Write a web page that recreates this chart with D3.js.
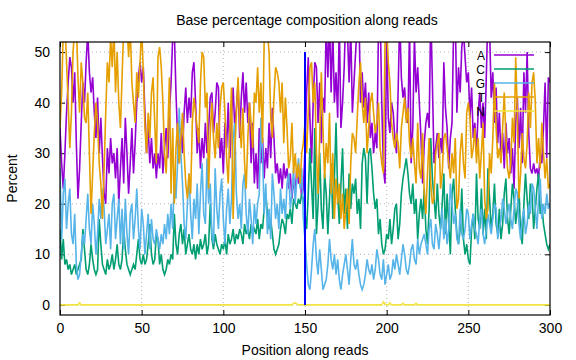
<!DOCTYPE html>
<html lang="en">
<head>
    <meta charset="UTF-8">
    <title>Base percentage composition along reads</title>
    <script type="application/javascript" src="https://cdnjs.cloudflare.com/ajax/libs/d3/7.8.5/d3.min.js"></script>
    <style type="text/css">
        body { margin: 0; background: #fff; }
        text { font-family: "Liberation Sans", Arial, sans-serif; }
    </style>
</head>
<body>
<svg id="chart" width="576" height="360"></svg>
<script type="application/javascript">
    // percent of each base at read positions 0..300
    var baseA = [
        35, 28, 23, 30, 38, 44, 49, 47, 40, 46,
        32, 21, 27, 36, 44, 40, 48, 54, 46, 42,
        45, 38, 33, 41, 30, 37, 29, 22, 20, 31,
        26, 33, 28, 30, 25, 31, 20, 27, 33, 24,
        37, 30, 22, 28, 35, 26, 32, 40, 45, 48,
        44, 47, 38, 30, 35, 28, 33, 27, 30, 25,
        30, 27, 34, 26, 31, 35, 29, 38, 44, 53,
        54, 42, 33, 28, 35, 30, 38, 43, 36, 41,
        37, 46, 48, 40, 30, 35, 27, 33, 29, 36,
        30, 35, 41, 42, 34, 38, 44, 43, 29, 33,
        26, 36, 31, 40, 29, 37, 43, 35, 39, 44,
        33, 41, 46, 38, 44, 36, 40, 28, 36, 24,
        30, 23, 35, 28, 33, 25, 31, 27, 36, 29,
        39, 33, 26, 28, 24, 27, 23, 28, 25, 27,
        23, 26, 21, 25, 22, 27, 24, 26, 21, 23,
        31, 42, 49, 37, 28, 40, 48, 47, 36, 44,
        32, 41, 38, 56, 45, 57, 42, 55, 40, 46,
        37, 56, 35, 40, 47, 58, 54, 44, 55, 38,
        44, 50, 56, 58, 40, 46, 39, 44, 36, 42,
        33, 36, 30, 34, 31, 55, 58, 40, 27, 24,
        54, 37, 34, 40, 38, 33, 30, 42, 57, 45,
        41, 43, 37, 36, 55, 28, 35, 53, 42, 47,
        40, 33, 24, 32, 36, 38, 35, 58, 44, 28,
        31, 34, 29, 33, 30, 48, 39, 35, 27, 33,
        36, 55, 57, 38, 47, 42, 51, 54, 49, 44,
        46, 37, 43, 33, 36, 30, 38, 42, 35, 40,
        33, 45, 58, 55, 41, 46, 36, 43, 32, 38,
        29, 34, 27, 36, 30, 33, 26, 31, 23, 36,
        41, 31, 39, 28, 46, 38, 50, 34, 27, 26,
        28, 26, 27, 25, 30, 28, 35, 44, 29, 45, 44
    ];
    var baseC = [
        15, 9, 13, 8, 9, 7, 8, 6, 7, 8,
        6, 7, 8, 9, 15, 11, 7, 6, 8, 12,
        9, 7, 6, 7, 17, 12, 8, 7, 6, 9,
        7, 8, 10, 7, 9, 12, 8, 7, 9, 15,
        11, 8, 7, 6, 7, 8, 7, 10, 13, 9,
        8, 10, 8, 9, 12, 16, 10, 8, 9, 14,
        13, 8, 10, 7, 6, 7, 9, 8, 10, 9,
        18, 12, 10, 14, 16, 12, 15, 10, 12, 14,
        11, 10, 12, 9, 12, 10, 13, 11, 12, 14,
        10, 12, 20, 13, 11, 14, 12, 11, 10, 12,
        11, 13, 10, 14, 12, 13, 15, 12, 14, 13,
        15, 14, 12, 16, 14, 15, 13, 16, 14, 15,
        14, 17, 13, 16, 15, 19, 22, 18, 15, 17,
        14, 11, 10, 11, 12, 15, 17, 16, 14, 18,
        17, 19, 16, 21, 20, 19, 21, 20, 22, 21,
        18, 15, 22, 31, 24, 17, 35, 14, 20, 30,
        19, 15, 26, 22, 14, 21, 28, 17, 25, 36,
        22, 16, 24, 31, 18, 23, 15, 26, 19, 24,
        22, 25, 18, 21, 15, 28, 31, 29, 20, 30,
        31, 27, 22, 19, 21, 14, 17, 12, 10, 11,
        14, 13, 17, 12, 15, 19, 20, 13, 16, 22,
        25, 27, 29, 26, 22, 20, 24, 18, 21, 13,
        18, 21, 17, 23, 15, 12, 19, 33, 25, 21,
        17, 24, 18, 15, 20, 26, 14, 22, 16, 10,
        22, 25, 19, 14, 12, 15, 23, 13, 10, 12,
        9, 8, 15, 18, 13, 26, 17, 15, 23, 14,
        19, 13, 27, 21, 15, 18, 24, 16, 14, 19,
        13, 16, 22, 25, 17, 14, 19, 24, 21, 16,
        19, 23, 14, 12, 20, 26, 21, 17, 24, 22,
        15, 19, 23, 26, 18, 20, 16, 14, 12, 11, 12
    ];
    var baseG = [
        27, 13, 22, 25, 15, 20, 23, 14, 12, 18,
        8, 5, 6, 10, 14, 12, 17, 22, 15, 12,
        20, 16, 10, 14, 21, 17, 23, 19, 12, 15,
        18, 11, 20, 22, 13, 17, 21, 12, 19, 11,
        21, 14, 10, 18, 20, 13, 17, 23, 15, 11,
        19, 16, 10, 14, 18, 11, 17, 13, 12, 15,
        13, 11, 14, 12, 16, 13, 18, 14, 20, 15,
        25, 21, 28, 39, 30, 24, 16, 13, 20, 26,
        18, 13, 21, 17, 24, 14, 22, 28, 18, 16,
        29, 20, 24, 14, 12, 27, 19, 15, 22, 25,
        17, 12, 19, 23, 16, 21, 33, 36, 22, 17,
        20, 15, 24, 26, 18, 14, 21, 17, 12, 20,
        16, 20, 22, 37, 30, 18, 24, 14, 19, 13,
        26, 22, 17, 20, 15, 23, 18, 21, 17, 24,
        26, 19, 22, 27, 20, 25, 29, 23, 27, 17,
        13, 8, 4, 3, 7, 12, 15, 9, 6, 11,
        7, 3, 4, 5, 8, 13, 9, 7, 10, 6,
        9, 5, 3, 6, 8, 10, 7, 4, 9, 13,
        8, 7, 9, 6, 4, 3, 4, 6, 9, 7,
        6, 8, 5, 7, 11, 9, 6, 5, 9, 4,
        6, 8, 5, 6, 9, 7, 10, 8, 6, 9,
        12, 10, 7, 6, 8, 11, 12, 9, 8, 13,
        10, 12, 13, 14, 12, 10, 15, 17, 12, 11,
        16, 14, 11, 15, 19, 13, 17, 12, 15, 24,
        20, 16, 18, 13, 12, 19, 14, 13, 15, 19,
        18, 13, 16, 18, 15, 14, 12, 17, 19, 14,
        12, 15, 18, 16, 14, 17, 20, 19, 13, 15,
        17, 21, 19, 16, 18, 20, 17, 15, 19, 23,
        22, 16, 13, 17, 19, 14, 16, 20, 18, 24,
        23, 19, 15, 21, 25, 17, 20, 18, 22, 19, 20
    ];
    var baseT = [
        35, 42, 54, 56, 48, 40, 31, 38, 50, 55,
        56, 45, 38, 48, 44, 37, 36, 42, 30, 18,
        26, 34, 40, 36, 28, 24, 17, 27, 38, 48,
        44, 53, 47, 55, 42, 50, 40, 35, 45, 55,
        54, 56, 49, 55, 44, 40, 36, 46, 41, 48,
        55, 46, 35, 30, 38, 33, 42, 45, 36, 28,
        49, 51, 47, 40, 30, 26, 34, 45, 22, 35,
        20, 31, 36, 28, 33, 38, 30, 24, 21, 26,
        22, 36, 41, 38, 35, 32, 44, 50, 49, 39,
        42, 23, 34, 40, 33, 29, 36, 31, 39, 43,
        44, 38, 29, 24, 34, 43, 17, 30, 38, 45,
        36, 31, 39, 28, 23, 33, 40, 36, 31, 42,
        40, 47, 38, 44, 32, 52, 55, 54, 50, 37,
        33, 41, 47, 46, 44, 38, 44, 32, 41, 35,
        27, 29, 36, 26, 30, 25, 28, 24, 30, 32,
        36, 30, 38, 47, 48, 40, 44, 30, 22, 33,
        46, 35, 25, 32, 28, 38, 22, 30, 17, 25,
        20, 24, 17, 22, 15, 19, 23, 16, 28, 34,
        33, 30, 37, 44, 48, 40, 36, 41, 30, 35,
        40, 42, 38, 34, 36, 40, 31, 28, 26, 52,
        55, 48, 44, 36, 33, 31, 34, 32, 27, 35,
        38, 41, 36, 39, 32, 29, 33, 28, 24, 36,
        27, 25, 34, 22, 18, 26, 33, 24, 20, 21,
        30, 32, 34, 23, 26, 33, 34, 31, 28, 25,
        30, 26, 33, 19, 21, 30, 34, 28, 25, 38,
        40, 37, 29, 31, 35, 28, 33, 25, 30, 36,
        21, 17, 19, 30, 26, 33, 44, 35, 29, 31,
        28, 35, 42, 33, 27, 25, 28, 37, 32, 49,
        38, 21, 26, 34, 29, 27, 32, 42, 35, 44,
        46, 40, 28, 33, 27, 36, 30, 25, 29, 23, 24
    ];
    var baseN = [
        0, 0, 0, 0, 0, 0, 0, 0, 0, 0,
        0, 0, 0.4, 0, 0, 0, 0, 0, 0, 0,
        0, 0, 0, 0, 0, 0, 0, 0, 0, 0,
        0, 0, 0, 0, 0, 0, 0, 0, 0, 0,
        0, 0, 0, 0, 0, 0, 0, 0, 0, 0,
        0, 0, 0, 0, 0, 0, 0, 0, 0, 0,
        0, 0, 0, 0, 0, 0, 0, 0, 0, 0,
        0, 0, 0, 0, 0, 0, 0, 0, 0, 0,
        0, 0, 0, 0, 0, 0, 0, 0, 0, 0,
        0, 0, 0, 0, 0, 0, 0, 0, 0, 0,
        0, 0, 0, 0, 0, 0, 0, 0, 0, 0,
        0, 0, 0, 0, 0, 0, 0, 0, 0, 0,
        0, 0, 0, 0, 0, 0, 0, 0, 0, 0,
        0, 0, 0, 0, 0, 0, 0, 0, 0, 0,
        0, 0, 0, 0.3, 0.4, 0.2, 0, 0, 0, 0,
        0, 0, 0, 0, 0, 0, 0, 0, 0, 0,
        0, 0, 0, 0, 0, 0, 0, 0, 0, 0,
        0, 0, 0, 0, 0, 0, 0, 0, 0, 0,
        0, 0, 0, 0, 0, 0, 0, 0, 0, 0,
        0, 0, 0, 0, 0, 0, 0, 0, 0.6, 0.2,
        0, 0, 0.4, 0, 0, 0, 0, 0, 0, 0,
        0.3, 0, 0, 0, 0, 0, 0, 0, 0.3, 0,
        0, 0, 0, 0, 0, 0, 0, 0, 0, 0,
        0, 0, 0, 0, 0, 0, 0, 0, 0, 0,
        0, 0, 0, 0, 0, 0, 0, 0, 0, 0,
        0, 0, 0, 0, 0, 0, 0, 0, 0, 0,
        0, 0, 0, 0, 0, 0, 0, 0, 0, 0,
        0, 0, 0, 0, 0, 0, 0, 0, 0, 0,
        0, 0, 0, 0, 0, 0, 0, 0, 0, 0,
        0, 0, 0, 0, 0, 0, 0, 0, 0, 0, 0
    ];
    var seriesNames = ['A', 'C', 'G', 'T', 'N'];
    var seriesColors = ['#9400d3', '#009e73', '#56b4e9', '#e69f00', '#f0e442'];
    var xTicks = [0, 50, 100, 150, 200, 250, 300];
    var yTicks = [0, 10, 20, 30, 40, 50];
    var markerPos = 150;   // vertical marker at the read midpoint
    var markerRange = [0, 50];

    (function () {
        var svg = d3.select('#chart');
        var left = 60, right = 550, top = 42, bottom = 315;
        var FONT = 14;

        var x = d3.scaleLinear().domain([0, 300]).range([left, right]);
        var y = d3.scaleLinear().domain([-2, 52]).range([bottom, top]);

        var allSeries = [baseA, baseC, baseG, baseT, baseN];

        svg.append('text')
            .attr('x', 307)
            .attr('y', 25)
            .attr('text-anchor', 'middle')
            .attr('font-size', FONT)
            .text('Base percentage composition along reads');

        // dotted grid
        var grid = svg.append('g');
        grid.selectAll('line.gx').data(xTicks.slice(1, -1)).enter().append('line')
            .attr('x1', function (d) { return x(d); })
            .attr('x2', function (d) { return x(d); })
            .attr('y1', top).attr('y2', bottom);
        grid.selectAll('line.gy').data(yTicks).enter().append('line')
            .attr('y1', function (d) { return y(d); })
            .attr('y2', function (d) { return y(d); })
            .attr('x1', left).attr('x2', right);
        grid.selectAll('line')
            .attr('stroke', '#b4b4b4')
            .attr('stroke-width', 1)
            .attr('stroke-dasharray', '1,3');

        // axes with inward ticks, mirrored on top/right
        svg.append('g')
            .attr('transform', 'translate(0,' + bottom + ')')
            .call(d3.axisBottom(x).tickValues(xTicks).tickSize(-5).tickPadding(8));
        svg.append('g')
            .attr('transform', 'translate(0,' + top + ')')
            .call(d3.axisTop(x).tickValues(xTicks).tickSize(-5).tickFormat(''));
        svg.append('g')
            .attr('transform', 'translate(' + left + ',0)')
            .call(d3.axisLeft(y).tickValues(yTicks).tickSize(-5).tickPadding(10));
        svg.append('g')
            .attr('transform', 'translate(' + right + ',0)')
            .call(d3.axisRight(y).tickValues(yTicks).tickSize(-5).tickFormat(''));
        svg.selectAll('.domain').remove();
        svg.selectAll('.tick line').attr('stroke', '#000');
        svg.selectAll('.tick text')
            .attr('font-size', FONT)
            .attr('font-family', '"Liberation Sans", Arial, sans-serif')
            .attr('fill', '#000');

        svg.append('defs').append('clipPath').attr('id', 'plot-clip')
            .append('rect')
            .attr('x', left).attr('y', top)
            .attr('width', right - left).attr('height', bottom - top);

        var line = d3.line()
            .x(function (d, i) { return x(i); })
            .y(function (d) { return y(d); });

        var plot = svg.append('g').attr('clip-path', 'url(#plot-clip)');
        allSeries.forEach(function (values, k) {
            plot.append('path')
                .datum(values)
                .attr('fill', 'none')
                .attr('stroke', seriesColors[k])
                .attr('stroke-width', 1.6)
                .attr('stroke-linejoin', 'miter')
                .attr('d', line);
        });

        plot.append('line')
            .attr('x1', x(markerPos)).attr('x2', x(markerPos))
            .attr('y1', y(markerRange[0])).attr('y2', y(markerRange[1]))
            .attr('stroke', '#0000ff')
            .attr('stroke-width', 2);

        // key, top right inside the frame (tight rows like gnuplot)
        var key = svg.append('g');
        seriesNames.forEach(function (name, k) {
            var ky = 55 + k * 14;
            key.append('text')
                .attr('x', 485)
                .attr('y', ky + 4.5)
                .attr('text-anchor', 'end')
                .attr('font-size', 12)
                .text(name);
            key.append('line')
                .attr('x1', 494).attr('x2', 534)
                .attr('y1', ky).attr('y2', ky)
                .attr('stroke', seriesColors[k])
                .attr('stroke-width', 1.6);
        });

        svg.append('rect')
            .attr('x', left).attr('y', top)
            .attr('width', right - left).attr('height', bottom - top)
            .attr('fill', 'none')
            .attr('stroke', '#000')
            .attr('stroke-width', 1.2);

        svg.append('text')
            .attr('x', 305)
            .attr('y', 355)
            .attr('text-anchor', 'middle')
            .attr('font-size', FONT)
            .text('Position along reads');

        svg.append('text')
            .attr('text-anchor', 'middle')
            .attr('font-size', FONT)
            .attr('transform', 'translate(17,' + ((top + bottom) / 2) + ')rotate(-90)')
            .text('Percent');
    })();
</script>
</body>
</html>
